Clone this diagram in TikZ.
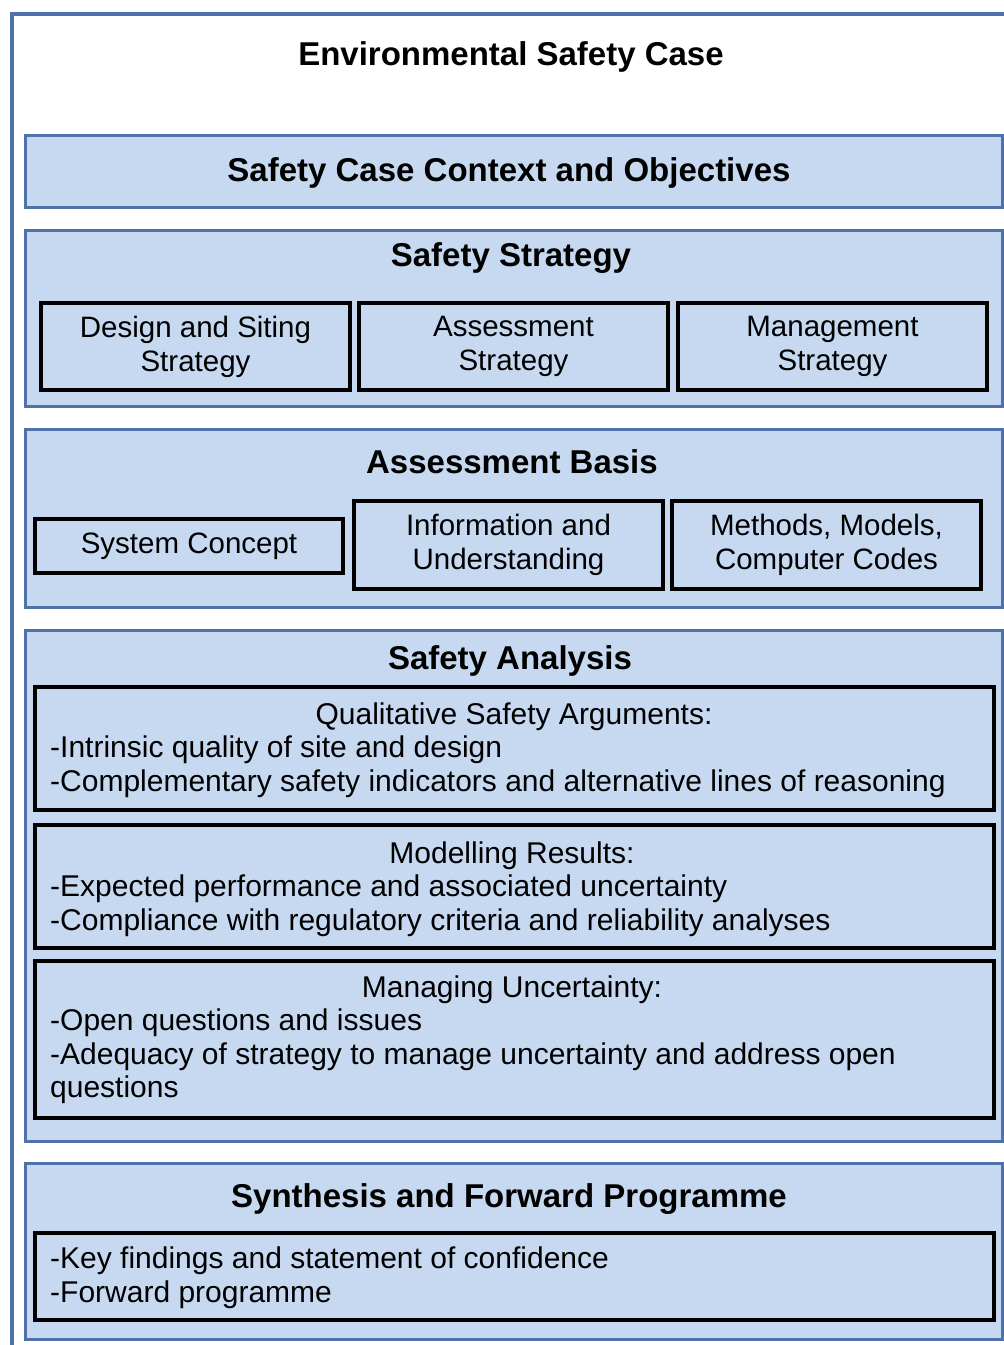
\documentclass[tikz,border=0pt]{standalone}
\usepackage{fontspec}
\setmainfont{Liberation Sans}
\definecolor{panelfill}{RGB}{198,217,240}
\definecolor{panelline}{RGB}{79,114,170}
\begin{document}
\begin{tikzpicture}[x=1pt,y=-1pt,
    frame/.style={draw=panelline,line width=4.5pt},
    panel/.style={draw=panelline,fill=panelfill,line width=3pt,anchor=north west,inner sep=0pt},
    inbox/.style={draw=black,fill=panelfill,line width=3.5pt,inner sep=0pt,align=center,
      font=\fontsize{29.5}{34}\selectfont},
    title/.style={font=\fontsize{33}{38}\selectfont\bfseries,inner sep=0pt,yshift=-2.5pt},
    head/.style={font=\fontsize{30}{33}\selectfont,inner sep=0pt,yshift=-2.5pt},
    body/.style={font=\fontsize{30}{33.5}\selectfont,inner sep=0pt,align=left,anchor=west,yshift=-2.5pt}]
  \useasboundingbox (0,0) rectangle (1004,1345);
  \fill[white] (0,0) rectangle (1004,1345);
  \draw[frame] (12,1345) -- (12,14) -- (1006,14);
  \node[title] (esc) at (511,54) {Environmental Safety Case};
  % context
  \node[panel,minimum width=977pt,minimum height=72pt] (context) at (24,134) {};
  \node[title] (contextT) at (509,170) {Safety Case Context and Objectives};
  % strategy
  \node[panel,minimum width=977pt,minimum height=176pt] (strategy) at (24,229) {};
  \node[title] (strategyT) at (511,256) {Safety Strategy};
  \node[inbox,minimum width=309pt,minimum height=87pt] (design) at (195.5,346.5) {Design and Siting\\Strategy};
  \node[inbox,minimum width=309pt,minimum height=87pt] (assess) at (513.5,346.5) {Assessment\\Strategy};
  \node[inbox,minimum width=309pt,minimum height=87pt] (manage) at (832.5,346.5) {Management\\Strategy};
  % basis
  \node[panel,minimum width=977pt,minimum height=178pt] (basis) at (24,428) {};
  \node[title] (basisT) at (512,459) {Assessment Basis};
  \node[inbox,minimum width=308pt,minimum height=54pt] (system) at (189,546) {System Concept};
  \node[inbox,minimum width=309pt,minimum height=88pt] (info) at (508.5,545) {Information and\\Understanding};
  \node[inbox,minimum width=309pt,minimum height=88pt] (methods) at (826.5,545) {Methods, Models,\\Computer Codes};
  % analysis
  \node[panel,minimum width=977pt,minimum height=511pt] (analysis) at (24,629) {};
  \node[title] (analysisT) at (510,658) {Safety Analysis};
  \node[inbox,minimum width=959pt,minimum height=123pt] (quali) at (514.5,748.5) {};
  \node[head] (qualiH) at (514,714) {Qualitative Safety Arguments:};
  \node[body] (qualiB) at (50,764) {-Intrinsic quality of site and design\\
    -Complementary safety indicators and alternative lines of reasoning};
  \node[inbox,minimum width=959pt,minimum height=123pt] (model) at (514.5,886.5) {};
  \node[head] (modelH) at (512,853) {Modelling Results:};
  \node[body] (modelB) at (50,903) {-Expected performance and associated uncertainty\\
    -Compliance with regulatory criteria and reliability analyses};
  \node[inbox,minimum width=959pt,minimum height=157pt] (uncert) at (514.5,1039.5) {};
  \node[head] (uncertH) at (512,987) {Managing Uncertainty:};
  \node[body] (uncertB) at (50,1054) {-Open questions and issues\\
    -Adequacy of strategy to manage uncertainty and address open\\
    questions};
  % synthesis
  \node[panel,minimum width=977pt,minimum height=176pt] (synth) at (24,1162) {};
  \node[title] (synthT) at (509,1197) {Synthesis and Forward Programme};
  \node[inbox,minimum width=959pt,minimum height=87pt] (findings) at (514.5,1276.5) {};
  \node[body] (findingsB) at (50,1275) {-Key findings and statement of confidence\\
    -Forward programme};
\end{tikzpicture}
\end{document}
